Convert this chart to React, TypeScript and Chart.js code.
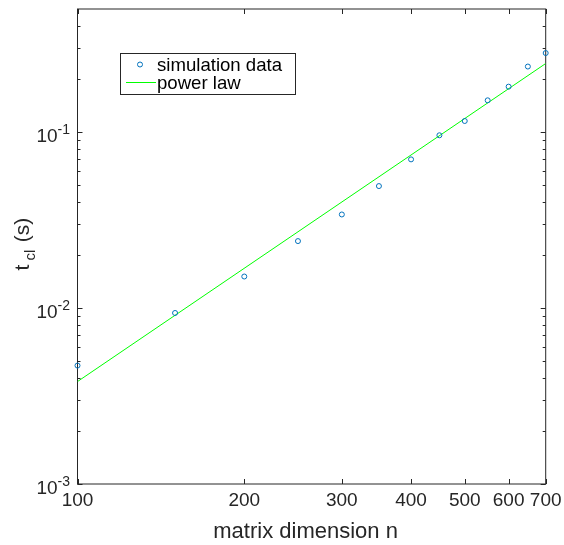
import React, { useEffect, useRef } from "react";
import { Chart, registerables } from "chart.js";

Chart.register(...registerables);

const nValues = [100, 150, 200, 250, 300, 350, 400, 450, 500, 550, 600, 650, 700];
const tValues = [0.00471, 0.00937, 0.0151, 0.024, 0.034, 0.0493, 0.0699, 0.0958, 0.1155, 0.1514, 0.181, 0.2355, 0.281];
const fitN = [100, 700];
const fitT = [0.00382, 0.245];
const xTickValues = [100, 200, 300, 400, 500, 600, 700];
const yDecadeValues = [0.001, 0.01, 0.1];
const yDecadeExponents = ["-3", "-2", "-1"];
const yMinorValues = [0.002, 0.003, 0.004, 0.005, 0.006, 0.007, 0.008, 0.009, 0.02, 0.03, 0.04, 0.05, 0.06, 0.07, 0.08, 0.09, 0.2, 0.3, 0.4];
const legendLabels = ["simulation data", "power law"];
const xTitle = "matrix dimension n";

const FONT = '"Liberation Sans", Arial, Helvetica, sans-serif';
const AXIS = "#262626";
const BLUE = "rgb(0,114,189)";
const GREEN = "rgb(0,255,0)";

const axesPlugin = {
  id: "matlabAxes",
  beforeDatasetsDraw(chart: any) {
    const ctx = chart.ctx;
    const { left, right, top, bottom } = chart.chartArea;
    const xs = chart.scales.x;
    const ys = chart.scales.y;
    ctx.save();
    ctx.strokeStyle = AXIS;
    ctx.lineWidth = 1;
    ctx.beginPath();
    xTickValues.forEach((v) => {
      const px = Math.round(xs.getPixelForValue(v)) + 0.5;
      ctx.moveTo(px, bottom);
      ctx.lineTo(px, bottom - 5);
      ctx.moveTo(px, top);
      ctx.lineTo(px, top + 5);
    });
    yDecadeValues.forEach((v) => {
      const py = Math.round(ys.getPixelForValue(v)) + 0.5;
      ctx.moveTo(left, py);
      ctx.lineTo(left + 5, py);
      ctx.moveTo(right, py);
      ctx.lineTo(right - 5, py);
    });
    yMinorValues.forEach((v) => {
      const py = Math.round(ys.getPixelForValue(v)) + 0.5;
      ctx.moveTo(left, py);
      ctx.lineTo(left + 3, py);
      ctx.moveTo(right, py);
      ctx.lineTo(right - 3, py);
    });
    ctx.stroke();
    ctx.strokeRect(left, top, right - left, bottom - top);

    ctx.fillStyle = AXIS;
    ctx.font = `19px ${FONT}`;
    ctx.textAlign = "center";
    ctx.textBaseline = "alphabetic";
    xTickValues.forEach((v) => {
      ctx.fillText(String(v), xs.getPixelForValue(v), bottom + 22);
    });
    yDecadeValues.forEach((v, i) => {
      const py = ys.getPixelForValue(v);
      ctx.font = `14px ${FONT}`;
      const ew = ctx.measureText(yDecadeExponents[i]).width;
      ctx.font = `19px ${FONT}`;
      const bw = ctx.measureText("10").width;
      const rightEdge = left - 7.5;
      ctx.textAlign = "left";
      ctx.fillText("10", rightEdge - ew - bw, py + 10);
      ctx.font = `14px ${FONT}`;
      ctx.fillText(yDecadeExponents[i], rightEdge - ew, py + 1.5);
    });
    ctx.font = `22px ${FONT}`;
    ctx.textAlign = "center";
    ctx.fillText(xTitle, (left + right) / 2 - 6, bottom + 54);
    const drawRot = (text: string, size: number, bx: number, cy: number) => {
      ctx.save();
      ctx.translate(bx, cy);
      ctx.rotate(-Math.PI / 2);
      ctx.font = `${size}px ${FONT}`;
      ctx.textAlign = "center";
      ctx.fillText(text, 0, 0);
      ctx.restore();
    };
    drawRot("t", 21, 29, 267.5);
    drawRot("cl", 15, 35, 255);
    drawRot("(s)", 21, 29, 230);
    ctx.restore();
  },
  afterDraw(chart: any) {
    const ctx = chart.ctx;
    ctx.save();
    ctx.fillStyle = "#ffffff";
    ctx.fillRect(120.5, 53.5, 175, 41);
    ctx.strokeStyle = AXIS;
    ctx.lineWidth = 1;
    ctx.strokeRect(120.5, 53.5, 175, 41);
    ctx.strokeStyle = BLUE;
    ctx.beginPath();
    ctx.arc(140, 64.5, 2.5, 0, Math.PI * 2);
    ctx.stroke();
    ctx.strokeStyle = GREEN;
    ctx.beginPath();
    ctx.moveTo(126, 82.5);
    ctx.lineTo(156, 82.5);
    ctx.stroke();
    ctx.fillStyle = "#000000";
    ctx.font = `18.6px ${FONT}`;
    ctx.textAlign = "left";
    ctx.textBaseline = "alphabetic";
    ctx.fillText(legendLabels[0], 157, 71);
    ctx.fillText(legendLabels[1], 157, 88.5);
    ctx.restore();
  },
};

export default function App() {
  const ref = useRef<HTMLCanvasElement | null>(null);
  useEffect(() => {
    document.body.style.margin = "0";
    document.body.style.overflow = "hidden";
    if (!ref.current) return;
    const chart = new Chart(ref.current, {
      type: "scatter",
      data: {
        datasets: [
          {
            label: legendLabels[0],
            data: nValues.map((n, i) => ({ x: n, y: tValues[i] })),
            showLine: false,
            pointStyle: "circle",
            pointRadius: 2.5,
            pointBorderWidth: 1,
            pointBorderColor: BLUE,
            pointBackgroundColor: "rgba(0,0,0,0)",
            clip: false as any,
            order: 0,
          },
          {
            label: legendLabels[1],
            data: fitN.map((n, i) => ({ x: n, y: fitT[i] })),
            showLine: true,
            borderColor: GREEN,
            borderWidth: 1,
            pointRadius: 0,
            order: 1,
          },
        ],
      },
      options: {
        animation: false,
        responsive: false,
        devicePixelRatio: 1,
        layout: { padding: { left: 77.5, top: 9, right: 18.3, bottom: 61 } },
        plugins: { legend: { display: false }, tooltip: { enabled: false } },
        events: [],
        scales: {
          x: { type: "logarithmic", min: 100, max: 700, display: false },
          y: { type: "logarithmic", min: 0.001, max: 0.5, display: false },
        },
      },
      plugins: [axesPlugin],
    });
    return () => chart.destroy();
  }, []);
  return <canvas ref={ref} width={564} height={545} style={{ display: "block" }} />;
}
